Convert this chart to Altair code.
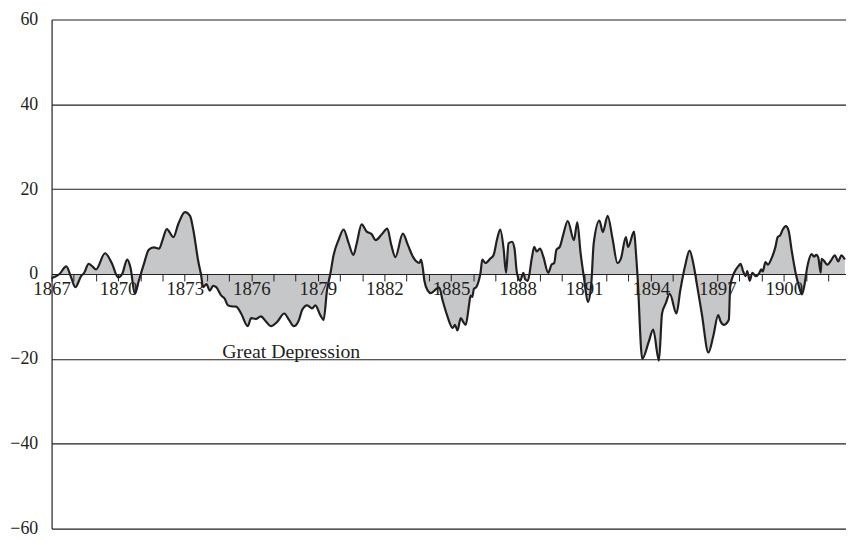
import altair as alt
import pandas as pd

years = [1867.00, 1867.36, 1867.66, 1867.88, 1868.07, 1868.33, 1868.47, 1868.67, 1868.84, 1869.00,
         1869.41, 1869.71, 1870.00, 1870.18, 1870.41, 1870.56, 1870.75, 1870.93, 1871.15, 1871.38,
         1871.60, 1871.85, 1872.00, 1872.19, 1872.49, 1872.71, 1873.01, 1873.24, 1873.38, 1873.61,
         1873.73, 1873.83, 1873.98, 1874.13, 1874.28, 1874.42, 1874.65, 1874.80, 1874.95, 1875.09,
         1875.32, 1875.54, 1875.84, 1875.99, 1876.21, 1876.43, 1876.66, 1876.88, 1877.18, 1877.48,
         1877.70, 1877.92, 1878.15, 1878.29, 1878.52, 1878.74, 1878.89, 1879.11, 1879.26, 1879.41,
         1879.56, 1879.71, 1879.93, 1880.16, 1880.38, 1880.60, 1880.75, 1880.97, 1881.20, 1881.42,
         1881.61, 1881.87, 1882.13, 1882.31, 1882.49, 1882.83, 1883.06, 1883.28, 1883.43, 1883.58,
         1883.65, 1883.73, 1883.80, 1883.95, 1884.10, 1884.32, 1884.47, 1884.62, 1884.84, 1885.07,
         1885.18, 1885.29, 1885.44, 1885.54, 1885.66, 1885.81, 1885.88, 1885.96, 1886.03, 1886.14,
         1886.25, 1886.33, 1886.41, 1886.55, 1886.78, 1886.92, 1887.08, 1887.22, 1887.37, 1887.48,
         1887.59, 1887.75, 1887.86, 1887.97, 1888.12, 1888.26, 1888.34, 1888.46, 1888.64, 1888.75,
         1888.86, 1889.01, 1889.16, 1889.38, 1889.53, 1889.65, 1889.75, 1889.90, 1890.05, 1890.26,
         1890.54, 1890.69, 1890.84, 1890.99, 1891.17, 1891.32, 1891.43, 1891.69, 1891.84, 1892.06,
         1892.28, 1892.50, 1892.66, 1892.88, 1892.98, 1893.25, 1893.33, 1893.40, 1893.62, 1893.92,
         1894.11, 1894.37, 1894.51, 1894.67, 1894.86, 1895.16, 1895.33, 1895.56, 1895.75, 1895.93,
         1896.08, 1896.30, 1896.60, 1896.82, 1897.04, 1897.15, 1897.30, 1897.52, 1897.58, 1897.76,
         1897.94, 1898.05, 1898.16, 1898.28, 1898.35, 1898.46, 1898.58, 1898.73, 1898.88, 1898.98,
         1899.05, 1899.17, 1899.28, 1899.42, 1899.62, 1899.72, 1899.83, 1899.95, 1900.09, 1900.21,
         1900.36, 1900.54, 1900.69, 1900.81, 1900.92, 1901.06, 1901.25, 1901.36, 1901.46, 1901.55,
         1901.66, 1901.70, 1901.81, 1901.96, 1902.10, 1902.30, 1902.45, 1902.59, 1902.75]

values = [-1.0, 0.0, 1.8, -0.8, -3.1, -0.5, 0.3, 2.4, 1.8, 1.1,
          4.9, 2.6, -0.8, 0.0, 3.4, 1.4, -4.7, -1.6, 2.2, 5.7,
          6.3, 6.0, 8.0, 10.6, 8.7, 11.8, 14.6, 13.7, 10.6, 3.0,
          0.0, -3.1, -2.4, -3.9, -2.8, -3.1, -5.1, -5.8, -7.4, -7.6,
          -7.7, -9.3, -12.3, -10.4, -10.6, -10.0, -11.2, -12.3, -11.2, -9.3,
          -10.8, -12.3, -10.8, -8.5, -7.4, -8.1, -7.4, -9.7, -10.8, -3.9,
          0.0, 4.5, 8.0, 10.5, 7.4, 4.5, 7.2, 11.7, 10.0, 9.4,
          8.0, 9.3, 10.7, 6.8, 4.0, 9.5, 6.8, 4.1, 3.0, 2.6,
          3.4, 1.4, -1.6, -3.9, -4.5, -3.6, -3.2, -6.2, -10.0, -12.7,
          -12.0, -13.3, -10.4, -11.2, -12.0, -7.4, -5.1, -5.4, -3.5, -3.1,
          -1.6, 0.3, 3.4, 2.6, 3.7, 4.5, 8.3, 10.5, 6.0, 0.3,
          7.2, 7.6, 6.0, 0.3, -1.6, 0.3, -1.2, -1.6, 3.7, 6.4,
          5.3, 6.0, 4.1, 0.3, 2.2, 2.6, 5.7, 6.4, 9.1, 12.5,
          8.0, 12.2, 4.9, -0.8, -6.6, -2.4, 7.2, 12.6, 9.9, 13.7,
          8.3, 2.6, 3.7, 8.7, 6.4, 10.0, 5.3, 0.0, -20.0, -15.8,
          -13.1, -20.4, -9.3, -7.0, -4.7, -9.3, -3.9, 2.2, 5.5, 2.2,
          -2.4, -9.3, -18.5, -14.6, -9.7, -11.2, -12.0, -10.8, -3.0, 0.3,
          1.8, 2.4, 0.7, -0.5, 0.7, -1.6, 0.3, -0.5, 0.1, 1.1,
          0.6, 2.8, 2.2, 3.4, 6.4, 8.7, 9.1, 10.5, 11.3, 10.3,
          5.3, 0.0, -3.1, -4.8, -2.8, 1.8, 4.7, 4.1, 4.5, 3.9,
          0.3, 3.6, 3.1, 2.2, 3.0, 4.4, 3.0, 4.4, 3.4]

tick_years = list(range(1867, 1903))
y_ticks = [-60, -40, -20, 0, 20, 40, 60]

annot_text = ["Great Depression"]
annot_year = [1877.8]
annot_value = [-18.4]

df = pd.DataFrame({"year": years, "value": values})
ann = pd.DataFrame({"year": annot_year, "value": annot_value, "text": annot_text})

FONT = "Liberation Serif"
INK = "#231f20"
H = 514

x_scale = alt.Scale(domain=[1867, 1902.8], nice=False, zero=False)
y_scale = alt.Scale(domain=[-60, 60], nice=False)

x_axis = alt.Axis(
    values=tick_years, format="d", title=None, offset=-H / 2,
    labelExpr="(round(datum.value) - 1867) % 3 == 0 ? datum.label : ''",
    labelFont=FONT, labelFontSize=19, labelColor=INK, labelPadding=-1,
    tickSize=7, tickColor=INK, domainColor=INK, domainWidth=1.2,
    grid=False, labelFlush=False, labelOverlap=False, labelBound=False, zindex=1,
)
y_axis = alt.Axis(
    values=y_ticks, title=None, tickSize=0, labelPadding=14,
    labelFont=FONT, labelFontSize=18, labelColor=INK,
    grid=True, gridColor=INK, gridWidth=1.1, gridOpacity=1,
    domainColor=INK, domainWidth=1.2, labelOverlap=False,
)

base = alt.Chart(df)

area = base.mark_area(interpolate="monotone", color="#c6c7c8", opacity=1).encode(
    x=alt.X("year:Q", scale=x_scale, axis=x_axis),
    y=alt.Y("value:Q", scale=y_scale, axis=y_axis, stack=None),
    y2=alt.datum(0),
)
line = base.mark_line(interpolate="monotone", color=INK, strokeWidth=2.2).encode(
    x=alt.X("year:Q", scale=x_scale, axis=x_axis),
    y=alt.Y("value:Q", scale=y_scale, axis=y_axis),
)
text = alt.Chart(ann).mark_text(font=FONT, fontSize=20, color=INK, align="center", baseline="middle").encode(
    x=alt.X("year:Q", scale=x_scale, axis=x_axis),
    y=alt.Y("value:Q", scale=y_scale, axis=y_axis),
    text="text:N",
)

chart = alt.layer(area, line, text).properties(
    width=802, height=H,
    autosize=alt.AutoSizeParams(type="none"),
    padding={"left": 44, "top": 9, "right": 0, "bottom": 13},
).configure_view(stroke=None).configure_axis(labelOverlap=False)

chart.save("out.html", embed_options={"renderer": "svg", "actions": False})
